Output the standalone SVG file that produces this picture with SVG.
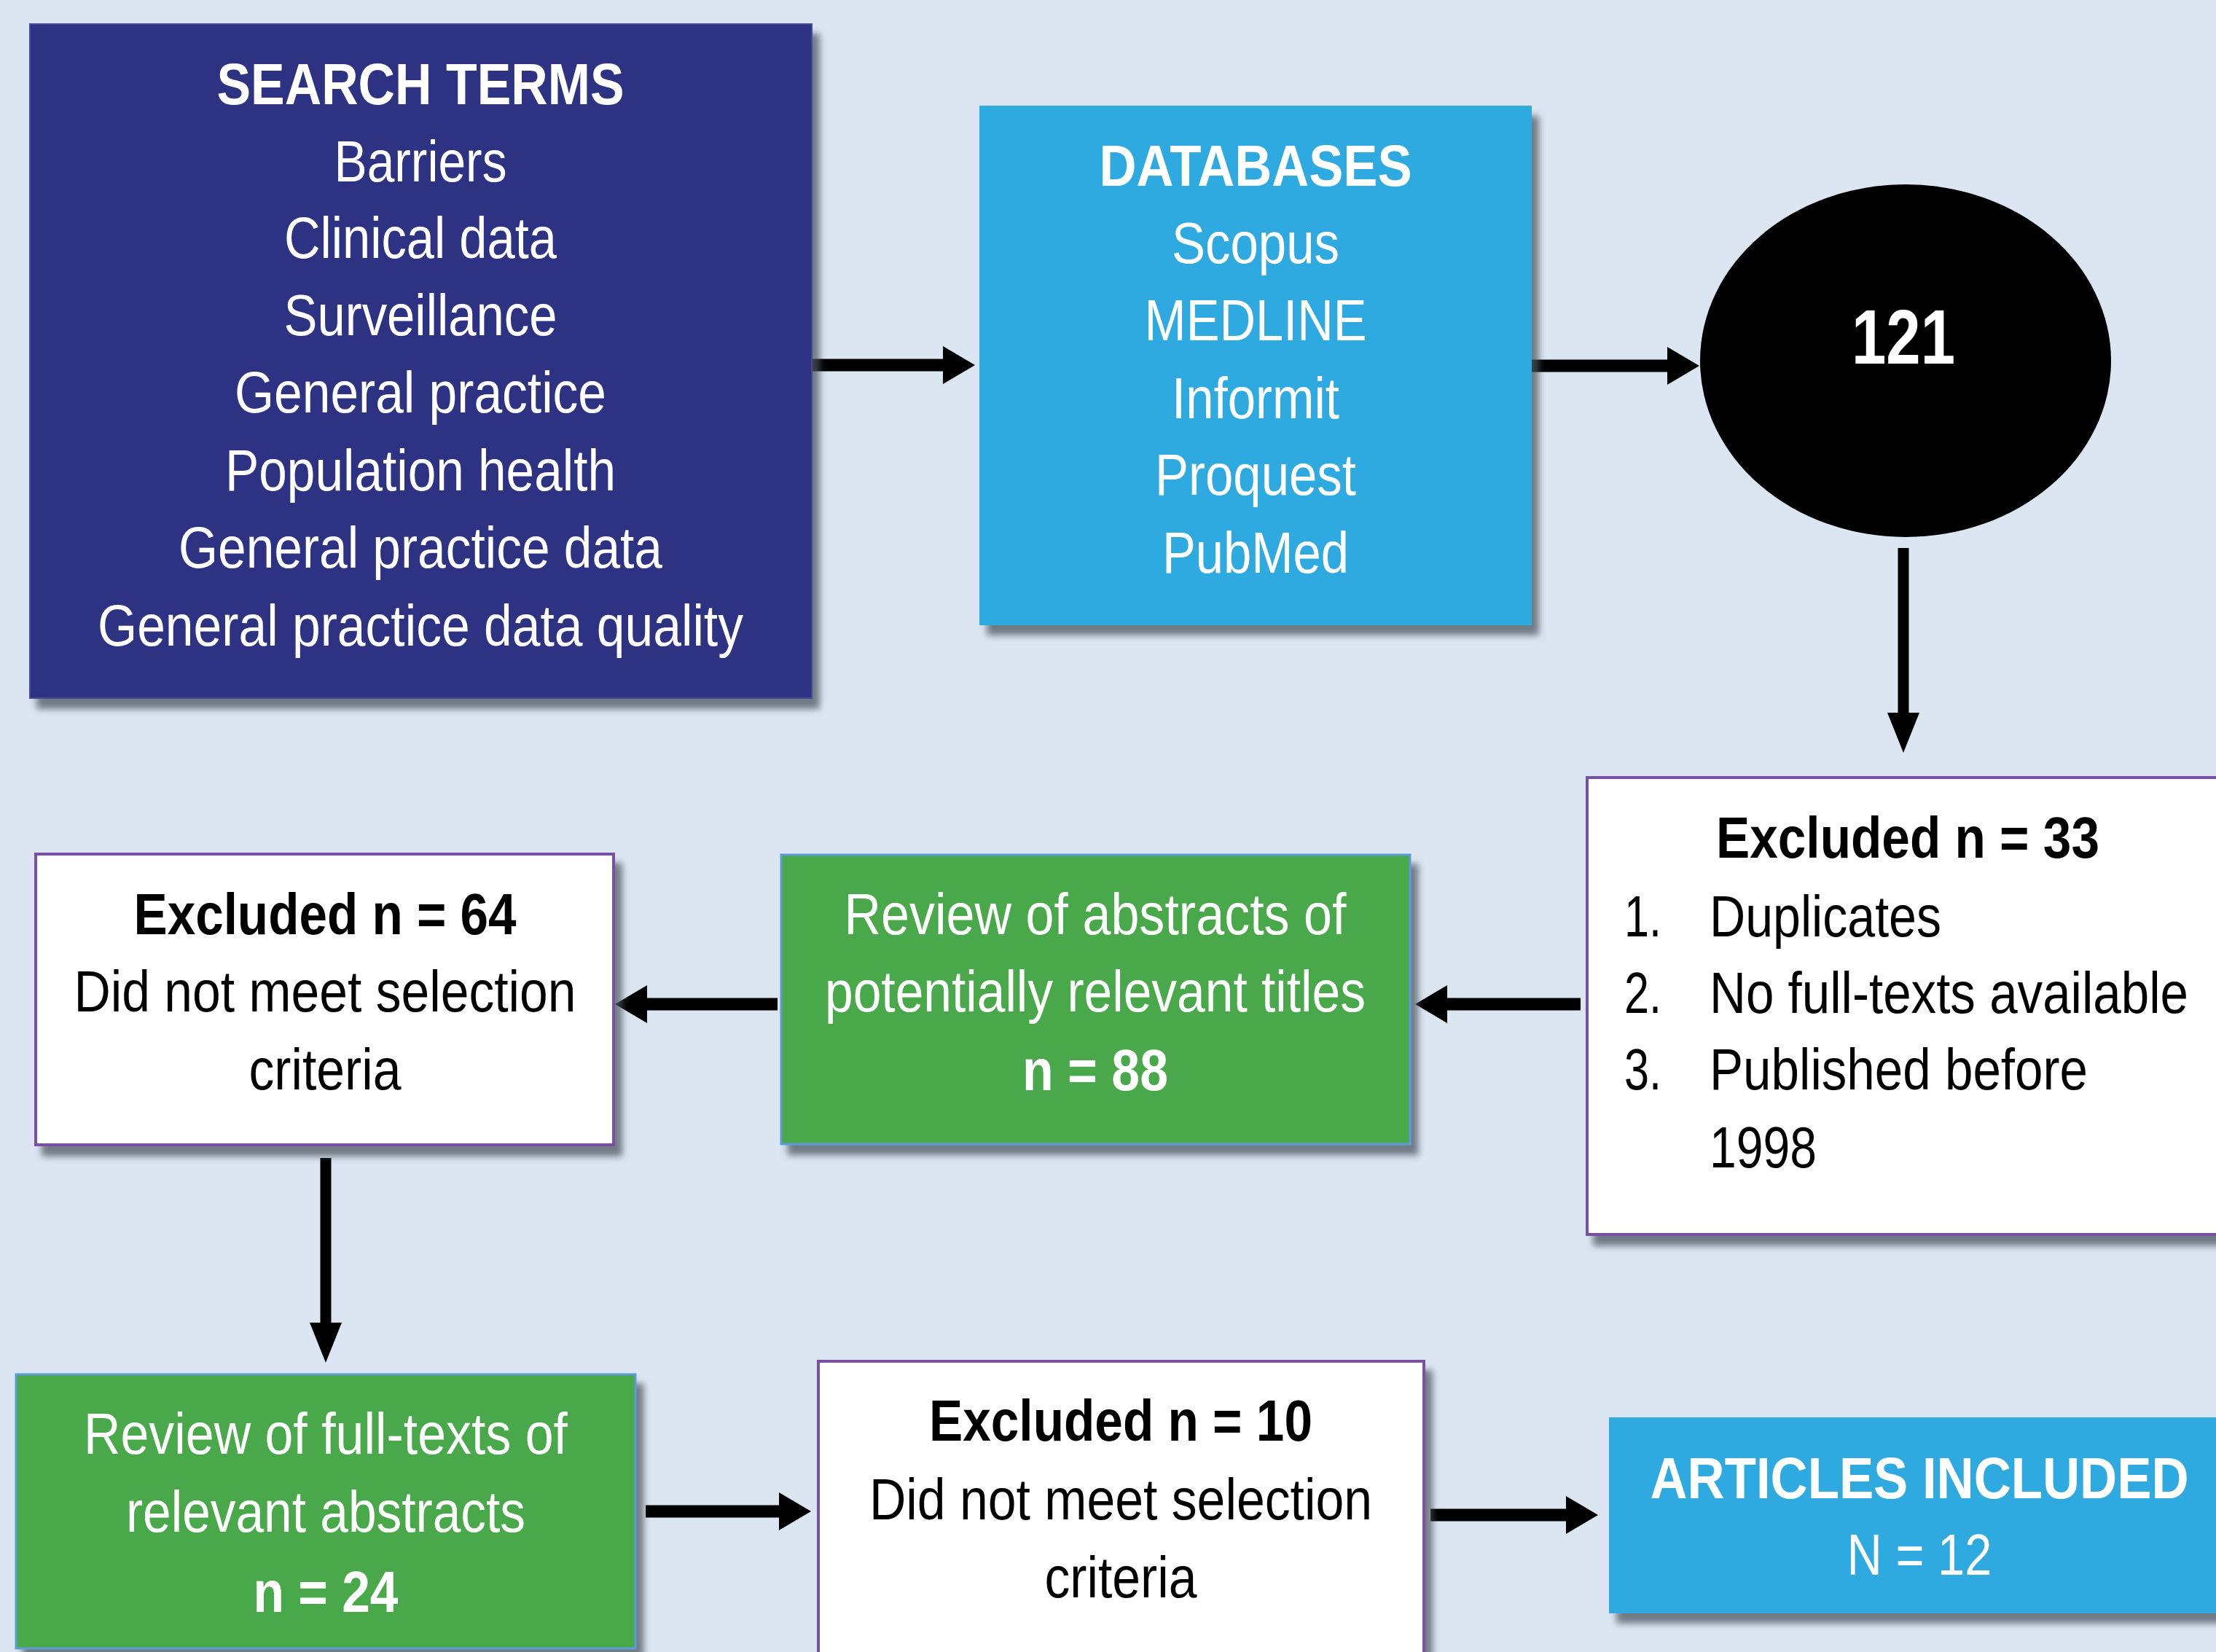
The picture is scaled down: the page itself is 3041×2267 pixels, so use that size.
<svg xmlns="http://www.w3.org/2000/svg" width="3041" height="2267" viewBox="0 0 3041 2267">
  <defs>
    <style>
      .t { font-family: "Liberation Sans", Arial, sans-serif; font-size: 80px; text-anchor: middle; }
      .l { font-family: "Liberation Sans", Arial, sans-serif; font-size: 80px; text-anchor: start; }
      .b { font-weight: bold; }
      .w { fill: #ffffff; }
      .k { fill: #000000; }
      .navy { fill: #2e3182; stroke: #454a97; stroke-width: 2; }
      .sky { fill: #2eaae1; }
      .green { fill: #4aa84a; stroke: #5b9bd5; stroke-width: 3; }
      .excl { fill: #ffffff; stroke: #7b4fa6; stroke-width: 4; }
      .conn line { stroke: #000000; fill: none; }
      .h { stroke-width: 17; marker-end: url(#headH); }
      .v { stroke-width: 15; marker-end: url(#headV); }
    </style>
    <filter id="shadow" x="-10%" y="-10%" width="130%" height="130%">
      <feDropShadow dx="10" dy="14" stdDeviation="5" flood-color="#4e5660" flood-opacity="0.75"/>
    </filter>
    <marker id="headH" markerUnits="userSpaceOnUse" viewBox="0 0 44 52" refX="2" refY="26" markerWidth="44" markerHeight="52" orient="auto">
      <path d="M0,0 L44,26 L0,52 Z" fill="#000000"/>
    </marker>
    <marker id="headV" markerUnits="userSpaceOnUse" viewBox="0 0 55 44" refX="2" refY="22" markerWidth="55" markerHeight="44" orient="auto">
      <path d="M0,0 L55,22 L0,44 Z" fill="#000000"/>
    </marker>
  </defs>

  <!-- page background -->
  <rect x="0" y="0" width="3041" height="2267" fill="#dce6f2"/>

  <!-- connectors -->
  <g id="connectors" class="conn">
    <line class="h" x1="1110" y1="501" x2="1296" y2="501"/>
    <line class="h" x1="2102" y1="502" x2="2290" y2="502"/>
    <line class="v" x1="2612" y1="752" x2="2612" y2="980"/>
    <line class="h" x1="2169" y1="1378" x2="1984" y2="1378"/>
    <line class="h" x1="1067" y1="1378" x2="886" y2="1378"/>
    <line class="v" x1="447" y1="1589" x2="447" y2="1817"/>
    <line class="h" x1="886" y1="2074" x2="1071" y2="2074"/>
    <line class="h" x1="1963" y1="2079" x2="2151" y2="2079"/>
  </g>

  <!-- search terms -->
  <g id="search-terms">
    <rect class="navy" x="41" y="33" width="1073" height="925" filter="url(#shadow)"/>
    <text class="t b w" x="577" y="143" textLength="559" lengthAdjust="spacingAndGlyphs">SEARCH TERMS</text>
    <text class="t w" x="577" y="249" textLength="237" lengthAdjust="spacingAndGlyphs">Barriers</text>
    <text class="t w" x="577" y="354" textLength="374" lengthAdjust="spacingAndGlyphs">Clinical data</text>
    <text class="t w" x="577" y="460" textLength="375" lengthAdjust="spacingAndGlyphs">Surveillance</text>
    <text class="t w" x="577" y="566" textLength="510" lengthAdjust="spacingAndGlyphs">General practice</text>
    <text class="t w" x="577" y="673" textLength="536" lengthAdjust="spacingAndGlyphs">Population health</text>
    <text class="t w" x="577" y="779" textLength="664" lengthAdjust="spacingAndGlyphs">General practice data</text>
    <text class="t w" x="577" y="886" textLength="886" lengthAdjust="spacingAndGlyphs">General practice data quality</text>
  </g>

  <!-- databases -->
  <g id="databases">
    <rect class="sky" x="1344" y="145" width="758" height="713" filter="url(#shadow)"/>
    <text class="t b w" x="1723" y="255" textLength="429" lengthAdjust="spacingAndGlyphs">DATABASES</text>
    <text class="t w" x="1723" y="361" textLength="230" lengthAdjust="spacingAndGlyphs">Scopus</text>
    <text class="t w" x="1723" y="467" textLength="305" lengthAdjust="spacingAndGlyphs">MEDLINE</text>
    <text class="t w" x="1723" y="574" textLength="230" lengthAdjust="spacingAndGlyphs">Informit</text>
    <text class="t w" x="1723" y="679" textLength="276" lengthAdjust="spacingAndGlyphs">Proquest</text>
    <text class="t w" x="1723" y="786" textLength="256" lengthAdjust="spacingAndGlyphs">PubMed</text>
  </g>

  <!-- total records -->
  <g id="total">
    <ellipse cx="2615" cy="495" rx="282" ry="242" fill="#000000"/>
    <text class="t b w" x="2612" y="499" style="font-size:106px" textLength="142" lengthAdjust="spacingAndGlyphs">121</text>
  </g>

  <!-- excluded 33 -->
  <g id="excluded-33">
    <rect class="excl" x="2178" y="1067" width="890" height="627" filter="url(#shadow)"/>
    <text class="t b k" x="2618" y="1177" textLength="526" lengthAdjust="spacingAndGlyphs">Excluded n = 33</text>
    <text class="l k" x="2229" y="1285" textLength="51" lengthAdjust="spacingAndGlyphs">1.</text>
    <text class="l k" x="2346" y="1285" textLength="318" lengthAdjust="spacingAndGlyphs">Duplicates</text>
    <text class="l k" x="2229" y="1390" textLength="51" lengthAdjust="spacingAndGlyphs">2.</text>
    <text class="l k" x="2346" y="1390" textLength="657" lengthAdjust="spacingAndGlyphs">No full-texts available</text>
    <text class="l k" x="2229" y="1495" textLength="51" lengthAdjust="spacingAndGlyphs">3.</text>
    <text class="l k" x="2346" y="1495" textLength="519" lengthAdjust="spacingAndGlyphs">Published before</text>
    <text class="l k" x="2346" y="1602" textLength="147" lengthAdjust="spacingAndGlyphs">1998</text>
  </g>

  <!-- abstract review -->
  <g id="abstract-review">
    <rect class="green" x="1072" y="1173" width="863" height="397" filter="url(#shadow)"/>
    <text class="t w" x="1503" y="1282" textLength="689" lengthAdjust="spacingAndGlyphs">Review of abstracts of</text>
    <text class="t w" x="1503" y="1388" textLength="742" lengthAdjust="spacingAndGlyphs">potentially relevant titles</text>
    <text class="t b w" x="1503" y="1496" textLength="200" lengthAdjust="spacingAndGlyphs">n = 88</text>
  </g>

  <!-- excluded 64 -->
  <g id="excluded-64">
    <rect class="excl" x="49" y="1172" width="793" height="399" filter="url(#shadow)"/>
    <text class="t b k" x="446" y="1282" textLength="525" lengthAdjust="spacingAndGlyphs">Excluded n = 64</text>
    <text class="t k" x="446" y="1388" textLength="689" lengthAdjust="spacingAndGlyphs">Did not meet selection</text>
    <text class="t k" x="446" y="1495" textLength="209" lengthAdjust="spacingAndGlyphs">criteria</text>
  </g>

  <!-- full-text review -->
  <g id="fulltext-review">
    <rect class="green" x="22" y="1886" width="850" height="376" filter="url(#shadow)"/>
    <text class="t w" x="447" y="1995" textLength="664" lengthAdjust="spacingAndGlyphs">Review of full-texts of</text>
    <text class="t w" x="447" y="2102" textLength="548" lengthAdjust="spacingAndGlyphs">relevant abstracts</text>
    <text class="t b w" x="447" y="2212" textLength="199" lengthAdjust="spacingAndGlyphs">n = 24</text>
  </g>

  <!-- excluded 10 -->
  <g id="excluded-10">
    <rect class="excl" x="1123" y="1868" width="831" height="440" filter="url(#shadow)"/>
    <text class="t b k" x="1538" y="1977" textLength="526" lengthAdjust="spacingAndGlyphs">Excluded n = 10</text>
    <text class="t k" x="1538" y="2085" textLength="690" lengthAdjust="spacingAndGlyphs">Did not meet selection</text>
    <text class="t k" x="1538" y="2192" textLength="209" lengthAdjust="spacingAndGlyphs">criteria</text>
  </g>

  <!-- articles included -->
  <g id="articles-included">
    <rect class="sky" x="2208" y="1945" width="870" height="269" filter="url(#shadow)"/>
    <text class="t b w" x="2634" y="2056" textLength="739" lengthAdjust="spacingAndGlyphs">ARTICLES INCLUDED</text>
    <text class="t w" x="2634" y="2161" textLength="199" lengthAdjust="spacingAndGlyphs">N = 12</text>
  </g>
</svg>
